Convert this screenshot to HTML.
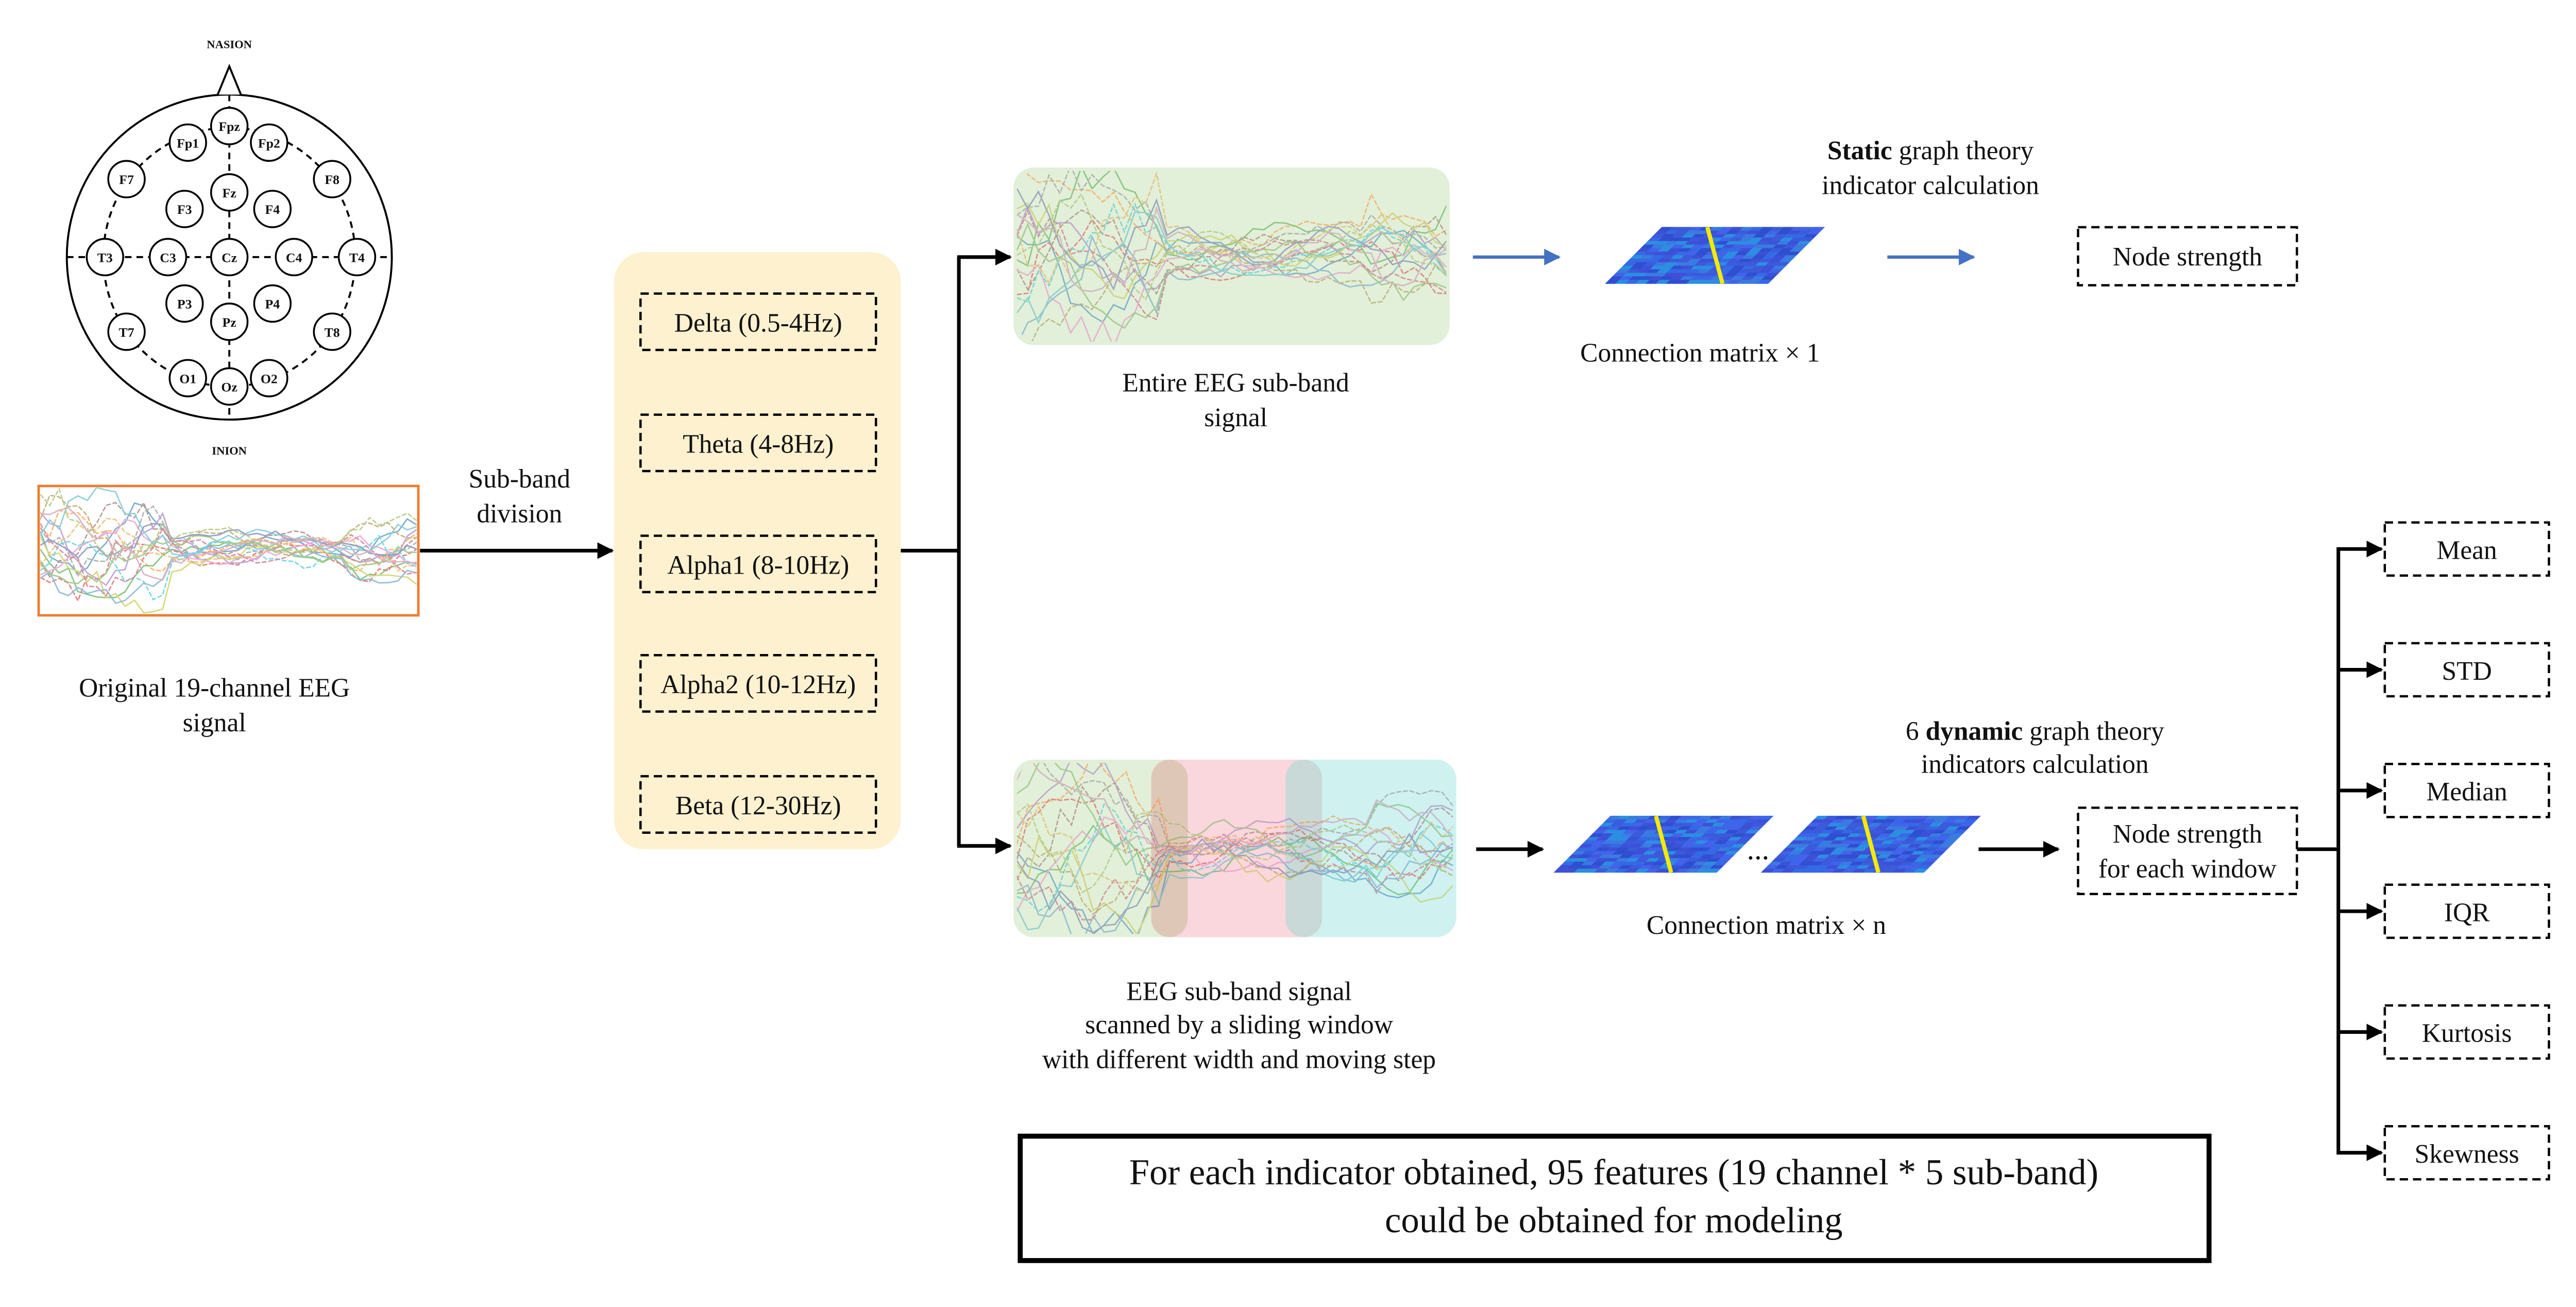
<!DOCTYPE html>
<html><head><meta charset="utf-8"><style>
html,body{margin:0;padding:0;background:#fff;}
svg{display:block;}
svg, text{font-family:"Liberation Serif","Times New Roman","Times","Tinos","Noto Serif CJK SC",serif;}
text{fill:#111;}
</style></head><body>
<svg id="s" width="5045" height="2536" viewBox="0 0 1567 788" xmlns="http://www.w3.org/2000/svg">
<defs>
<marker id="ab" markerWidth="10" markerHeight="10" refX="9" refY="5" orient="auto" markerUnits="userSpaceOnUse"><path d="M0,0 L10,5 L0,10z" fill="#000"/></marker>
<marker id="abl" markerWidth="10" markerHeight="10" refX="9" refY="5" orient="auto" markerUnits="userSpaceOnUse"><path d="M0,0 L10,5 L0,10z" fill="#4472c4"/></marker>
<clipPath id="c1"><rect x="24" y="294" width="227" height="76"/></clipPath>
<clipPath id="c2"><rect x="613" y="103" width="259" height="103" rx="12"/></clipPath>
<clipPath id="c3"><rect x="613" y="460" width="263" height="103" rx="12"/></clipPath>
</defs>
<g stroke="#000" fill="none" stroke-width="1.2">
<circle cx="138" cy="155" r="98"/>
<path d="M131,57 L138,40 L145,57" fill="#fff"/>
<ellipse cx="138" cy="155" rx="76" ry="78" stroke-dasharray="4,3"/>
<line x1="40" y1="155" x2="236" y2="155" stroke-dasharray="4,3"/>
<line x1="138" y1="57" x2="138" y2="253" stroke-dasharray="4,3"/>
</g>
<text x="138" y="29" font-size="7" font-weight="bold" text-anchor="middle">NASION</text>
<text x="138" y="274" font-size="7" font-weight="bold" text-anchor="middle">INION</text>
<g id="el" font-size="8" font-weight="bold" text-anchor="middle"></g>
<rect x="23" y="293" width="229" height="78" fill="#fff" stroke="#ed7d31" stroke-width="1.5"/>
<g id="w1" clip-path="url(#c1)" opacity="0.6"></g>
<text x="129" y="420" font-size="16" text-anchor="middle">Original 19-channel EEG</text>
<text x="129" y="441" font-size="16" text-anchor="middle">signal</text>
<text x="313" y="294" font-size="16" text-anchor="middle">Sub-band</text>
<text x="313" y="315" font-size="16" text-anchor="middle">division</text>
<line x1="253" y1="332" x2="369" y2="332" stroke="#000" stroke-width="2.2" marker-end="url(#ab)"/>
<rect x="370" y="152" width="173" height="360" rx="18" fill="#fdf1cf"/>
<g fill="none" stroke="#000" stroke-width="1.4" stroke-dasharray="5,3">
<rect x="386" y="177" width="142" height="34"/>
<rect x="386" y="250" width="142" height="34"/>
<rect x="386" y="323" width="142" height="34"/>
<rect x="386" y="395" width="142" height="34"/>
<rect x="386" y="468" width="142" height="34"/>
</g>
<g font-size="16" text-anchor="middle">
<text x="457" y="200">Delta (0.5-4Hz)</text>
<text x="457" y="273">Theta (4-8Hz)</text>
<text x="457" y="346">Alpha1 (8-10Hz)</text>
<text x="457" y="418">Alpha2 (10-12Hz)</text>
<text x="457" y="491">Beta (12-30Hz)</text>
</g>
<g stroke="#000" stroke-width="2.2" fill="none">
<polyline points="543,332 578,332"/>
<polyline points="578,155 578,510"/>
<line x1="577" y1="155" x2="609" y2="155" marker-end="url(#ab)"/>
<line x1="577" y1="510" x2="609" y2="510" marker-end="url(#ab)"/>
</g>
<rect x="611" y="101" width="263" height="107" rx="12" fill="#e2efd9"/>
<g id="w2" clip-path="url(#c2)" opacity="0.5"></g>
<text x="745" y="236" font-size="16" text-anchor="middle">Entire EEG sub-band</text>
<text x="745" y="257" font-size="16" text-anchor="middle">signal</text>
<line x1="888" y1="155" x2="940" y2="155" stroke="#4472c4" stroke-width="2" marker-end="url(#abl)"/>
<g id="m1"></g>
<line x1="1138" y1="155" x2="1190" y2="155" stroke="#4472c4" stroke-width="2" marker-end="url(#abl)"/>
<text x="1164" y="96" font-size="16" text-anchor="middle"><tspan font-weight="bold">Static</tspan> graph theory</text>
<text x="1164" y="117" font-size="16" text-anchor="middle">indicator calculation</text>
<text x="1025" y="218" font-size="16" text-anchor="middle">Connection matrix × 1</text>
<rect x="1253" y="137" width="132" height="35" fill="none" stroke="#000" stroke-width="1.4" stroke-dasharray="5,3"/>
<text x="1319" y="160" font-size="16" text-anchor="middle">Node strength</text>
<rect x="611" y="458" width="105" height="107" rx="12" fill="#e2efd9"/>
<rect x="694" y="458" width="103" height="107" rx="12" fill="#f9d7dc"/>
<rect x="775" y="458" width="103" height="107" rx="12" fill="#cff1ef"/>
<rect x="694" y="458" width="22" height="107" rx="11" fill="#dfc7b8"/>
<rect x="775" y="458" width="22" height="107" rx="11" fill="#c9d9d7"/>
<g id="w3" clip-path="url(#c3)" opacity="0.5"></g>
<text x="747" y="603" font-size="16" text-anchor="middle">EEG sub-band signal</text>
<text x="747" y="623" font-size="16" text-anchor="middle">scanned by a sliding window</text>
<text x="747" y="644" font-size="16" text-anchor="middle">with different width and moving step</text>
<line x1="890" y1="512" x2="930" y2="512" stroke="#000" stroke-width="2.2" marker-end="url(#ab)"/>
<g id="m2"></g><g id="m3"></g>
<text x="1060" y="518" font-size="18" text-anchor="middle">...</text>
<text x="1065" y="563" font-size="16" text-anchor="middle">Connection matrix × n</text>
<line x1="1193" y1="512" x2="1241" y2="512" stroke="#000" stroke-width="2.2" marker-end="url(#ab)"/>
<text x="1227" y="446" font-size="16" text-anchor="middle">6 <tspan font-weight="bold">dynamic</tspan> graph theory</text>
<text x="1227" y="466" font-size="16" text-anchor="middle">indicators calculation</text>
<rect x="1253" y="487" width="132" height="52" fill="none" stroke="#000" stroke-width="1.4" stroke-dasharray="5,3"/>
<text x="1319" y="508" font-size="16" text-anchor="middle">Node strength</text>
<text x="1319" y="529" font-size="16" text-anchor="middle">for each window</text>
<g stroke="#000" stroke-width="2.2" fill="none">
<line x1="1385" y1="512" x2="1410" y2="512"/>
<line x1="1410" y1="330" x2="1410" y2="696"/>
</g>
<g id="stats"></g>
<rect x="615" y="685" width="717" height="75" fill="none" stroke="#000" stroke-width="3"/>
<text x="973" y="714" font-size="22" text-anchor="middle">For each indicator obtained, 95 features  (19 channel * 5 sub-band)</text>
<text x="973" y="743" font-size="22" text-anchor="middle">could be obtained for modeling</text>
</svg>
<script>
var NS="http://www.w3.org/2000/svg";
function el(t,a,p){var e=document.createElementNS(NS,t);for(var k in a)e.setAttribute(k,a[k]);p.appendChild(e);return e;}
var E=[["Fpz",138,76],["Fp1",113,86],["Fp2",162,86],["F7",76,108],["F8",200,108],["Fz",138,116],["F3",111,126],["F4",164,126],["T3",63,155],["C3",101,155],["Cz",138,155],["C4",177,155],["T4",215,155],["P3",111,183],["P4",164,183],["Pz",138,194],["T7",76,200],["T8",200,200],["O1",113,228],["Oz",138,233],["O2",162,228]];
var g=document.getElementById("el");
E.forEach(function(e){el("circle",{cx:e[1],cy:e[2],r:11,fill:"#fff",stroke:"#000","stroke-width":1.1},g);var t=el("text",{x:e[1],y:e[2]+3},g);t.textContent=e[0];});
var seed=7;function R(){seed=(seed*16807)%2147483647;return seed/2147483647;}
var cols=["#1f77b4","#ff7f0e","#2ca02c","#d62728","#9467bd","#8c564b","#e377c2","#7f7f7f","#bcbd22","#17becf","#4a90c2","#e0a030","#66aa44","#c04060","#40b0c0","#a08030","#5060a0","#90b040","#c080a0"];
function waves(id,x0,x1,yc,amp){var G=document.getElementById(id);for(var i=0;i<19;i++){var pts=[],n=40,ph=R()*6.28,f=1+R()*2,off=(R()-0.5)*amp;for(var j=0;j<=n;j++){var x=x0+(x1-x0)*j/n;var env=j<n*0.35?1:(j>n*0.8?0.6:0.35);var y=yc+env*(off+Math.sin(ph+j/n*f*6.28)*amp*0.5)+(R()-0.5)*amp*0.4*env;pts.push(x.toFixed(1)+","+y.toFixed(1));}el("polyline",{points:pts.join(" "),fill:"none",stroke:cols[i],"stroke-width":0.8,"stroke-dasharray":i%2?"3,1":"none"},G);}}
waves("w1",24,251,332,36);waves("w2",613,872,152,52);waves("w3",613,876,512,52);
function mat(id,x,y){var G=document.getElementById(id);var w=98,h=34,sk=34,n=16;var cs=["#3b5bdb","#4263eb","#2f4fd0","#3a7be0","#2c8ee0","#3d50d8","#3569e6"];
function P(u,v){return (x+sk*(1-v)+w*u).toFixed(2)+","+(y+h*v).toFixed(2);}
for(var i=0;i<n;i++)for(var j=0;j<n;j++){var u0=j/n,u1=(j+1)/n,v0=i/n,v1=(i+1)/n;var c=cs[Math.floor(R()*cs.length)];
el("polygon",{points:[P(u0,v0),P(u1,v0),P(u1,v1),P(u0,v1)].join(" "),fill:c,stroke:c,"stroke-width":0.3},G);}
el("line",{x1:x+sk+w*0.28,y1:y,x2:x+w*0.72,y2:y+h,stroke:"#f5ea00","stroke-width":2.5},G);}
mat("m1",968,137);mat("m2",937,492);mat("m3",1062,492);
var S=document.getElementById("stats");var names=["Mean","STD","Median","IQR","Kurtosis","Skewness"];
names.forEach(function(nm,i){var y=331+i*72.8;el("line",{x1:1409,y1:y,x2:1436,y2:y,stroke:"#000","stroke-width":2.2,"marker-end":"url(#ab)"},S);
el("rect",{x:1438,y:y-16,width:99,height:32,fill:"none",stroke:"#000","stroke-width":1.4,"stroke-dasharray":"5,3"},S);var t=el("text",{x:1487.5,y:y+6,"font-size":16,"text-anchor":"middle"},S);t.textContent=nm;});
</script>
</body></html>
